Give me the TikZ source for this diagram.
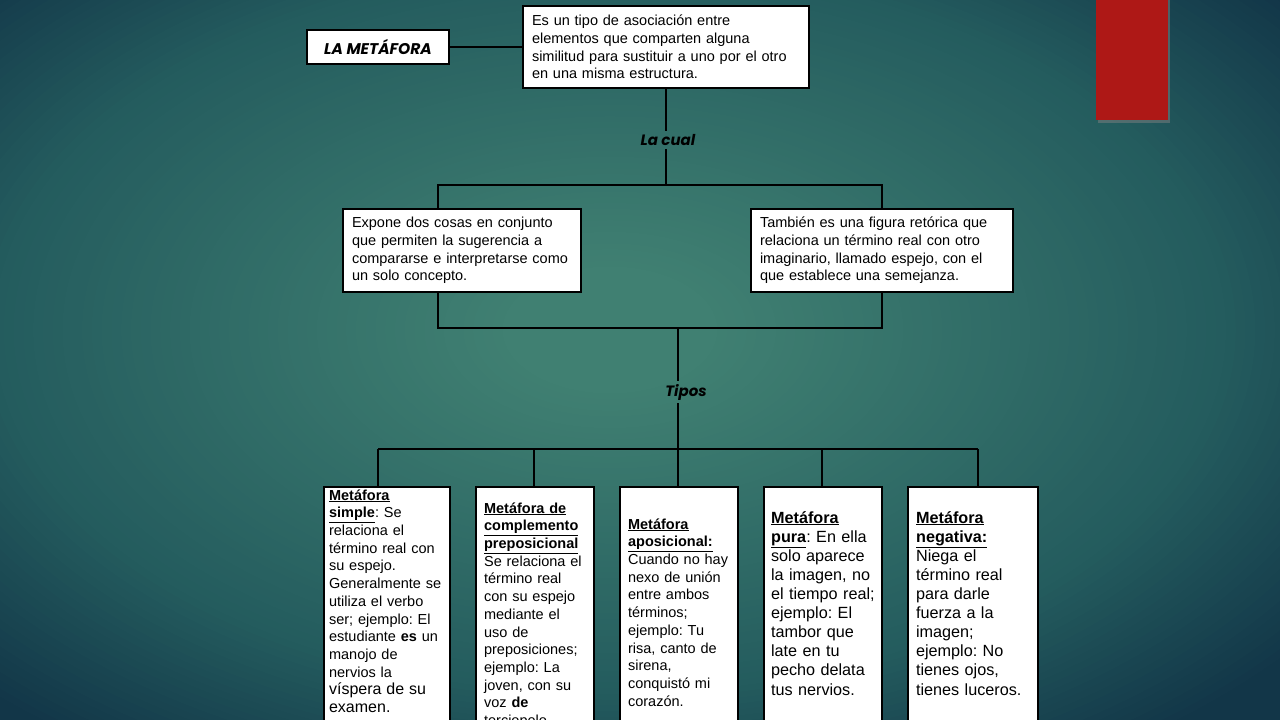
\documentclass[tikz,border=0pt]{standalone}
\usepackage{fontspec}
\setmainfont{Liberation Sans}
\newfontfamily\gothic{Poppins}
\usetikzlibrary{shadows}
\frenchspacing
\definecolor{bgin}{RGB}{64,128,114}
\definecolor{bgmid}{RGB}{36,92,94}
\definecolor{bgout}{RGB}{18,54,72}
\definecolor{redtab}{RGB}{174,24,22}

\begin{document}
\begin{tikzpicture}[x=1pt,y=-1pt,
 box/.style={draw=black,line width=2.2pt,fill=white,align=left,inner xsep=9pt,inner ysep=2pt,font=\fontsize{14.5}{17.7}\selectfont},
 tipo/.style={box,anchor=north west,inner xsep=8pt,text width=#1,text depth=240pt},
 lbl/.style={font=\gothic\bfseries\itshape\fontsize{15}{17}\selectfont,inner sep=3pt},
 conn/.style={line width=2.8pt,draw=black}]
\useasboundingbox (0,0) rectangle (1280,720);
\clip (0,0) rectangle (1280,720);
% fondo
\fill[bgout] (0,0) rectangle (1280,720);
\foreach \i in {90,89,...,1}{
  \pgfmathsetmacro\t{\i/90}
  \pgfmathsetmacro\qa{100-max(0,min(100,(\t-0.7)*100/0.3))}
  \pgfmathsetmacro\qb{100-max(0,min(100,(\t-0.12)*100/0.58))}
  \fill[bgin!\qb!bgmid!\qa!bgout] (610,330) ellipse [x radius=\t*880, y radius=\t*520];
}
\fill[redtab,drop shadow={opacity=0.5,shadow xshift=1.5pt,shadow yshift=-2.5pt}] (1096,-5) rectangle (1168,120);
% upper part
\node[box,minimum width=142pt,minimum height=34pt,font=\gothic\bfseries\itshape\fontsize{15.5}{17}\selectfont] (meta) at (378,47) {LA METÁFORA};
\node[box,text width=268pt,minimum height=82pt] (def) at (666,47) {Es un tipo de asociación entre\\ elementos que comparten alguna\\ similitud para sustituir a uno por el otro\\ en una misma estructura.};
\node[lbl] (lacual) at (668,140) {La cual};
\node[box,text width=220pt,minimum height=83pt] (expone) at (462,250.5) {Expone dos cosas en conjunto\\ que permiten la sugerencia a\\ compararse e interpretarse como\\ un solo concepto.};
\node[box,text width=244pt,minimum height=83pt] (figura) at (882,250.5) {También es una figura retórica que\\ relaciona un término real con otro\\ imaginario, llamado espejo, con el\\ que establece una semejanza.};
\node[lbl] (tipos) at (686,392) {Tipos};
% tipos de metafora
\node[tipo=116pt,inner xsep=5pt,text height=11pt] (simple) at (323,486) {\underline{\textbf{Metáfora}}\\ \underline{\textbf{simple}}: Se\\ relaciona el\\ término real con\\ su espejo.\\ Generalmente se\\ utiliza el verbo\\ ser; ejemplo: El\\ estudiante \textbf{es} un\\ manojo de\\ nervios la\\ {\fontsize{16}{19}\selectfont víspera de su}\\ {\fontsize{16}{19}\selectfont examen.}};
\node[tipo=102pt,text height=24pt] (prepos) at (475,486) {\underline{\textbf{Metáfora de}}\\ \underline{\textbf{complemento}}\\ \underline{\textbf{preposicional}}\\ Se relaciona el\\ término real\\ con su espejo\\ mediante el\\ uso de\\ preposiciones;\\ ejemplo: La\\ joven, con su\\ voz \textbf{de}\\ terciopelo};
\node[tipo=102pt,text height=40pt] (aposi) at (619,486) {\underline{\textbf{Metáfora}}\\ \underline{\textbf{aposicional:}}\\ Cuando no hay\\ nexo de unión\\ entre ambos\\ términos;\\ ejemplo: Tu\\ risa, canto de\\ sirena,\\ conquistó mi\\ corazón.};
\node[tipo=104pt,inner xsep=7pt,text height=34pt,font=\fontsize{16.2}{19.1}\selectfont] (pura) at (763,486) {\underline{\textbf{Metáfora}}\\ \underline{\textbf{pura}}: En ella\\ solo aparece\\ la imagen, no\\ el tiempo real;\\ ejemplo: El\\ tambor que\\ late en tu\\ pecho delata\\ tus nervios.};
\node[tipo=114pt,text height=34pt,font=\fontsize{16.2}{19.1}\selectfont] (nega) at (907,486) {\underline{\textbf{Metáfora}}\\ \underline{\textbf{negativa:}}\\ Niega el\\ término real\\ para darle\\ fuerza a la\\ imagen;\\ ejemplo: No\\ tienes ojos,\\ tienes luceros.};
% conectores
\coordinate (jA) at (666,185);
\coordinate (dL) at (438,185);
\coordinate (dR) at (882,185);
\coordinate (dL2) at (438,328);
\coordinate (dR2) at (882,328);
\coordinate (jB) at (678,328);
\coordinate (jC) at (678,449);
\draw[conn] (meta) -- (def);
\draw[conn] (def.south) -- (def.south |- lacual.north);
\draw[conn] (def.south |- lacual.south) -- (jA);
\draw[conn] (expone.north -| dL) -- (dL) -- (dR) -- (figura.north);
\draw[conn] (expone.south -| dL2) -- (dL2) -- (dR2) -- (figura.south);
\draw[conn] (jB) -- (jB |- tipos.north);
\draw[conn] (jB |- tipos.south) -- (jC);
\foreach \b/\x in {simple/378,prepos/534,aposi/678,pura/822,nega/978}{
  \coordinate (d\b) at (\x,449);
  \draw[conn] (d\b) -- (\b.north -| d\b);
}
\draw[conn] (dsimple) -- (dnega);
\end{tikzpicture}
\end{document}
